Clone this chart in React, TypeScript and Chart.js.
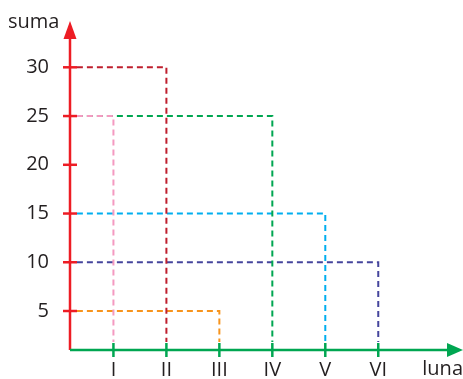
import React, { useEffect, useRef } from "react";
import { Chart, registerables } from "chart.js";

Chart.register(...registerables);

const months = ["I", "II", "III", "IV", "V", "VI"];
const monthPos = [1, 2, 3, 4, 5, 6];
const sums = [25, 30, 5, 25, 15, 10];
const seriesColors = ["#f49ac1", "#be1e2d", "#f7941d", "#00a651", "#00aeef", "#45459c"];
const yTicks = [5, 10, 15, 20, 25, 30];

const X_MIN = 0.18;
const X_MAX = 7.6;
const Y_MIN = 1;
const Y_MAX = 34.75;
const LINE_START_X = 0.31;
const LINE_END_Y = 1.82;

const FONT = "'Open Sans', 'Noto Sans', sans-serif";
const TEXT = "#231f20";
const RED = "#ed1c24";
const GREEN = "#00a651";

const axesPlugin = {
  id: "axesArrows",
  afterDraw(chart: any) {
    const { ctx, chartArea, scales } = chart;
    const x0 = chartArea.left;
    const y0 = chartArea.bottom;
    const xs = scales.x;
    const ys = scales.y;
    ctx.save();
    ctx.setLineDash([]);
    // y axis
    ctx.strokeStyle = RED;
    ctx.fillStyle = RED;
    ctx.lineWidth = 2.5;
    ctx.beginPath();
    ctx.moveTo(x0, y0);
    ctx.lineTo(x0, chartArea.top + 14);
    ctx.stroke();
    ctx.beginPath();
    ctx.moveTo(x0, chartArea.top);
    ctx.lineTo(x0 - 6.5, chartArea.top + 18);
    ctx.lineTo(x0 + 6.5, chartArea.top + 18);
    ctx.closePath();
    ctx.fill();
    yTicks.forEach((v) => {
      const py = ys.getPixelForValue(v);
      ctx.beginPath();
      ctx.moveTo(x0 - 7, py);
      ctx.lineTo(x0 + 7, py);
      ctx.stroke();
    });
    // x axis
    ctx.strokeStyle = GREEN;
    ctx.fillStyle = GREEN;
    ctx.beginPath();
    ctx.moveTo(x0, y0);
    ctx.lineTo(chartArea.right - 12, y0);
    ctx.stroke();
    ctx.beginPath();
    ctx.moveTo(chartArea.right, y0);
    ctx.lineTo(chartArea.right - 16, y0 - 7);
    ctx.lineTo(chartArea.right - 16, y0 + 7);
    ctx.closePath();
    ctx.fill();
    monthPos.forEach((v) => {
      const px = xs.getPixelForValue(v);
      ctx.beginPath();
      ctx.moveTo(px, y0 - 7);
      ctx.lineTo(px, y0 + 7);
      ctx.stroke();
    });
    // axis titles
    ctx.fillStyle = TEXT;
    ctx.font = `20px ${FONT}`;
    ctx.textBaseline = "alphabetic";
    ctx.textAlign = "left";
    ctx.fillText("suma", 8, 28);
    ctx.textAlign = "right";
    ctx.fillText("luna", chart.width, 375);
    ctx.restore();
  },
};

const zeroPad = (s: any) => {
  s.paddingTop = 0;
  s.paddingBottom = 0;
  s.paddingLeft = 0;
  s.paddingRight = 0;
};

export default function App() {
  const ref = useRef<HTMLCanvasElement>(null);
  useEffect(() => {
    if (!ref.current) return;
    const datasets = months.map((m, i) => ({
      label: m,
      data: [
        { x: LINE_START_X, y: sums[i] },
        { x: monthPos[i], y: sums[i] },
        { x: monthPos[i], y: LINE_END_Y },
      ],
      borderColor: seriesColors[i],
      backgroundColor: seriesColors[i],
      borderWidth: 2,
      borderDash: [6, 4],
      pointRadius: 0,
      fill: false,
      tension: 0,
    }));
    const chart = new Chart(ref.current, {
      type: "line",
      data: { datasets },
      options: {
        responsive: false,
        animation: false,
        layout: { padding: { top: 21, left: 0, right: 0, bottom: 0 } },
        plugins: { legend: { display: false }, tooltip: { enabled: false } },
        scales: {
          x: {
            type: "linear",
            min: X_MIN,
            max: X_MAX,
            grid: { display: false, drawTicks: false },
            border: { display: false },
            afterBuildTicks: (s: any) => {
              s.ticks = monthPos.map((v) => ({ value: v }));
            },
            afterFit: (s: any) => {
              s.height = 29;
              zeroPad(s);
            },
            ticks: {
              autoSkip: false,
              maxRotation: 0,
              padding: 8,
              color: TEXT,
              font: { family: FONT, size: 20 },
              callback: (v: any) => {
                const idx = monthPos.indexOf(Number(v));
                return idx >= 0 ? months[idx] : "";
              },
            },
          },
          y: {
            type: "linear",
            min: Y_MIN,
            max: Y_MAX,
            grid: { display: false, drawTicks: false },
            border: { display: false },
            afterBuildTicks: (s: any) => {
              s.ticks = yTicks.map((v) => ({ value: v }));
            },
            afterFit: (s: any) => {
              s.width = 70;
              zeroPad(s);
            },
            ticks: {
              padding: 21,
              color: TEXT,
              font: { family: FONT, size: 20 },
            },
          },
        },
      },
      plugins: [axesPlugin],
    });
    return () => chart.destroy();
  }, []);
  return (
    <div style={{ position: "fixed", left: 0, top: 0, width: 463, height: 379, background: "#fff" }}>
      <canvas ref={ref} width={463} height={379} />
    </div>
  );
}
